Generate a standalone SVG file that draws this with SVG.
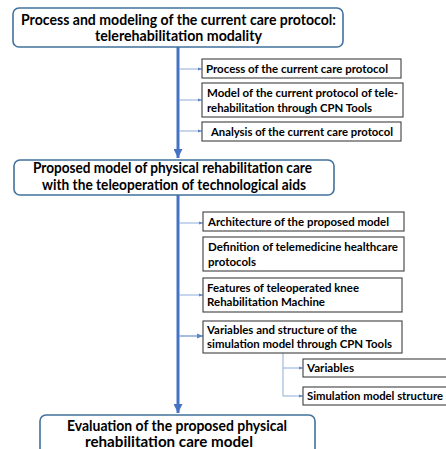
<svg xmlns="http://www.w3.org/2000/svg" width="446" height="449" viewBox="0 0 446 449">
  <style>
    .main { fill: #ffffff; stroke: #41719c; stroke-width: 1.6; }
    .sub { fill: #ffffff; stroke: #3f3f3f; stroke-width: 1.1; }
    .t1 { font-family: Lato, "Liberation Sans", sans-serif; font-weight: bold; font-size: 14.5px; fill: #000; }
    .t2 { font-family: Lato, "Liberation Sans", sans-serif; font-weight: bold; font-size: 11.5px; fill: #000; }
    .trunk { stroke: #4472c4; stroke-width: 3; fill: none; }
    .branch { stroke: #8eaadb; stroke-width: 1; fill: none; }
  </style>
  <defs>
    <marker id="bigArrow" viewBox="0 0 10 10" refX="10" refY="5" markerWidth="3" markerHeight="3" orient="auto" markerUnits="strokeWidth">
      <path d="M0,0 L10,5 L0,10 z" fill="#4472c4"/>
    </marker>
    <marker id="smallArrow" viewBox="0 0 10 10" refX="10" refY="5" markerWidth="4" markerHeight="4" orient="auto" markerUnits="strokeWidth">
      <path d="M0,1 L10,5 L0,9 z" fill="#5b84c9"/>
    </marker>
  </defs>

  <!-- connectors -->
  <g id="connectors">
    <line class="trunk" x1="178" y1="47" x2="178" y2="158" marker-end="url(#bigArrow)"/>
    <line class="trunk" x1="178" y1="195" x2="178" y2="413" marker-end="url(#bigArrow)"/>
    <line class="branch" x1="179" y1="69" x2="202" y2="69" marker-end="url(#smallArrow)"/>
    <line class="branch" x1="179" y1="100" x2="202" y2="100" marker-end="url(#smallArrow)"/>
    <line class="branch" x1="179" y1="131" x2="202" y2="131" marker-end="url(#smallArrow)"/>
    <line class="branch" x1="179" y1="223" x2="203" y2="223" marker-end="url(#smallArrow)"/>
    <line class="branch" x1="179" y1="295" x2="203" y2="295" marker-end="url(#smallArrow)"/>
    <line class="branch" x1="179" y1="336" x2="203" y2="336" marker-end="url(#smallArrow)" style="stroke-width:1.6"/>
    <polyline class="branch" points="283,353 283,396 303,396" marker-end="url(#smallArrow)"/>
    <line class="branch" x1="283" y1="368" x2="303" y2="368" marker-end="url(#smallArrow)"/>
  </g>

  <!-- level 1 -->
  <g id="n-current-protocol">
    <rect class="main" x="13" y="8" width="330" height="39" rx="6"/>
    <text class="t1" x="21" y="24.5" textLength="315" lengthAdjust="spacingAndGlyphs">Process and modeling of the current care protocol:</text>
    <text class="t1" x="95" y="40.5" textLength="167" lengthAdjust="spacingAndGlyphs">telerehabilitation modality</text>
  </g>

  <g id="n-process">
    <rect class="sub" x="202" y="59" width="199" height="19"/>
    <text class="t2" x="206" y="72.5" textLength="182" lengthAdjust="spacingAndGlyphs">Process of the current care protocol</text>
  </g>
  <g id="n-model-current">
    <rect class="sub" x="202" y="83" width="201" height="34"/>
    <text class="t2" x="207" y="97" textLength="191" lengthAdjust="spacingAndGlyphs">Model of the current protocol of tele-</text>
    <text class="t2" x="207" y="111.5" textLength="165" lengthAdjust="spacingAndGlyphs">rehabilitation through CPN Tools</text>
  </g>
  <g id="n-analysis">
    <rect class="sub" x="202" y="122" width="199" height="19"/>
    <text class="t2" x="211" y="135.5" textLength="182" lengthAdjust="spacingAndGlyphs">Analysis of the current care protocol</text>
  </g>

  <!-- level 2 -->
  <g id="n-proposed-model">
    <rect class="main" x="14" y="160" width="320" height="35" rx="6"/>
    <text class="t1" x="33" y="173" textLength="279" lengthAdjust="spacingAndGlyphs">Proposed model of physical rehabilitation care</text>
    <text class="t1" x="42" y="189.5" textLength="264" lengthAdjust="spacingAndGlyphs">with the teleoperation of technological aids</text>
  </g>

  <g id="n-architecture">
    <rect class="sub" x="203" y="212" width="201" height="19"/>
    <text class="t2" x="208" y="225.5" textLength="181" lengthAdjust="spacingAndGlyphs">Architecture of the proposed model</text>
  </g>
  <g id="n-definition">
    <rect class="sub" x="203" y="237" width="201" height="34"/>
    <text class="t2" x="208" y="251" textLength="190" lengthAdjust="spacingAndGlyphs">Definition of telemedicine healthcare</text>
    <text class="t2" x="208" y="265.5" textLength="48" lengthAdjust="spacingAndGlyphs">protocols</text>
  </g>
  <g id="n-features">
    <rect class="sub" x="203" y="278" width="199" height="34"/>
    <text class="t2" x="207" y="292" textLength="152" lengthAdjust="spacingAndGlyphs">Features of teleoperated knee</text>
    <text class="t2" x="207" y="306" textLength="118" lengthAdjust="spacingAndGlyphs">Rehabilitation Machine</text>
  </g>
  <g id="n-variables-structure">
    <rect class="sub" x="203" y="321" width="199" height="32"/>
    <text class="t2" x="207" y="334" textLength="150" lengthAdjust="spacingAndGlyphs">Variables and structure of the</text>
    <text class="t2" x="207" y="348" textLength="185" lengthAdjust="spacingAndGlyphs">simulation model through CPN Tools</text>
  </g>
  <g id="n-variables">
    <rect class="sub" x="303" y="359" width="150" height="18"/>
    <text class="t2" x="307" y="372" textLength="47" lengthAdjust="spacingAndGlyphs">Variables</text>
  </g>
  <g id="n-sim-structure">
    <rect class="sub" x="303" y="387" width="150" height="18"/>
    <text class="t2" x="307" y="400" textLength="136" lengthAdjust="spacingAndGlyphs">Simulation model structure</text>
  </g>

  <!-- level 3 -->
  <g id="n-evaluation">
    <rect class="main" x="40" y="415" width="275" height="44" rx="6"/>
    <text class="t1" x="67" y="431" textLength="220" lengthAdjust="spacingAndGlyphs">Evaluation of the proposed physical</text>
    <text class="t1" x="85" y="447" textLength="168" lengthAdjust="spacingAndGlyphs">rehabilitation care model</text>
  </g>
</svg>
